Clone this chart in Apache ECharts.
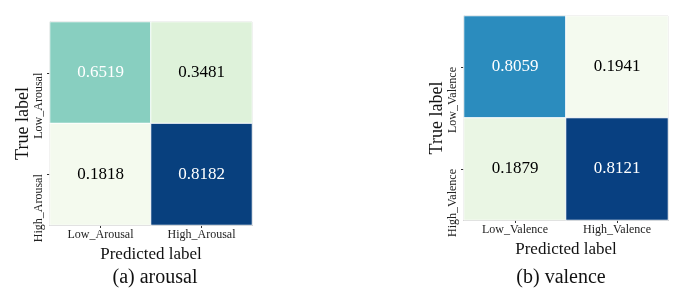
<!DOCTYPE html>
<html><head><meta charset="utf-8">
<script src="https://cdn.jsdelivr.net/npm/echarts@6/dist/echarts.min.js"></script>
<style>html,body{margin:0;padding:0;background:#fff}#c{width:689px;height:296px}</style>
</head><body><div id="c"></div>
<script>
// Data
var arousalLabels = ['Low_Arousal', 'High_Arousal'];
var valenceLabels = ['Low_Valence', 'High_Valence'];
// rows = true label, cols = predicted label
var arousalMatrix = [[0.6519, 0.3481], [0.1818, 0.8182]];
var valenceMatrix = [[0.8059, 0.1941], [0.1879, 0.8121]];
var captions = ['(a) arousal', '(b) valence'];
// Styles (cell colours, GnBu-like)
var arousalColors = [['#88cfc0', '#def2da'], ['#f4faee', '#08407e']];
var valenceColors = [['#2b8cbe', '#f4faef'], ['#eaf6e4', '#084081']];
var arousalText = [['#ffffff', '#000000'], ['#000000', '#ffffff']];
var valenceText = [['#ffffff', '#000000'], ['#000000', '#ffffff']];

function cells(m, colors, textColors) {
  var out = [];
  for (var r = 0; r < m.length; r++) {
    for (var c = 0; c < m[r].length; c++) {
      out.push({
        value: [c, r, m[r][c]],
        itemStyle: { color: colors[r][c], borderColor: '#ffffff', borderWidth: 1 },
        label: { color: textColors[r][c] }
      });
    }
  }
  return out;
}
var serif = 'Liberation Serif';
function xAx(idx, labels) {
  return {
    type: 'category', gridIndex: idx, data: labels,
    axisLine: { show: true, lineStyle: { color: '#666', width: 1 } },
    axisTick: { show: true, alignWithLabel: true, length: 3, lineStyle: { color: '#333' } },
    axisLabel: { fontFamily: serif, fontSize: 12, color: '#222', margin: 4 },
    name: 'Predicted label', nameLocation: 'middle', nameGap: 15,
    nameTextStyle: { fontFamily: serif, fontSize: 17, color: '#111' },
    splitLine: { show: false }
  };
}
function yAx(idx, labels) {
  return {
    type: 'category', gridIndex: idx, data: labels, inverse: true,
    axisLine: { show: true, lineStyle: { color: '#666', width: 1 } },
    axisTick: { show: true, alignWithLabel: true, length: 3, lineStyle: { color: '#333' } },
    axisLabel: { fontFamily: serif, fontSize: 12, color: '#222', rotate: 90, margin: 5,
                 align: 'right', verticalAlign: 'bottom' },
    name: 'True label', nameLocation: 'middle', nameGap: 16,
    nameTextStyle: { fontFamily: serif, fontSize: 18, color: '#111' },
    splitLine: { show: false }
  };
}
var chart = echarts.init(document.getElementById('c'), null, { renderer: 'canvas' });
chart.setOption({
  backgroundColor: '#ffffff',
  animation: false,
  title: [
    { text: captions[0], left: 150, top: 263, textAlign: 'center',
      textStyle: { fontFamily: serif, fontSize: 20, fontWeight: 'normal', color: '#111' } },
    { text: captions[1], left: 556, top: 263, textAlign: 'center',
      textStyle: { fontFamily: serif, fontSize: 20, fontWeight: 'normal', color: '#111' } }
  ],
  grid: [
    { left: 50, top: 22, width: 202, height: 203, show: true, borderColor: '#777', borderWidth: 1, backgroundColor: 'transparent' },
    { left: 464, top: 16, width: 204, height: 204, show: true, borderColor: '#777', borderWidth: 1, backgroundColor: 'transparent' }
  ],
  xAxis: [xAx(0, arousalLabels), xAx(1, valenceLabels)],
  yAxis: [yAx(0, arousalLabels), yAx(1, valenceLabels)],
  series: [
    { type: 'heatmap', xAxisIndex: 0, yAxisIndex: 0, data: cells(arousalMatrix, arousalColors, arousalText),
      label: { show: true, fontFamily: serif, fontSize: 17, formatter: function (p) { return p.value[2].toFixed(4); } } },
    { type: 'heatmap', xAxisIndex: 1, yAxisIndex: 1, data: cells(valenceMatrix, valenceColors, valenceText),
      label: { show: true, fontFamily: serif, fontSize: 17, formatter: function (p) { return p.value[2].toFixed(4); } } }
  ]
});
</script></body></html>
